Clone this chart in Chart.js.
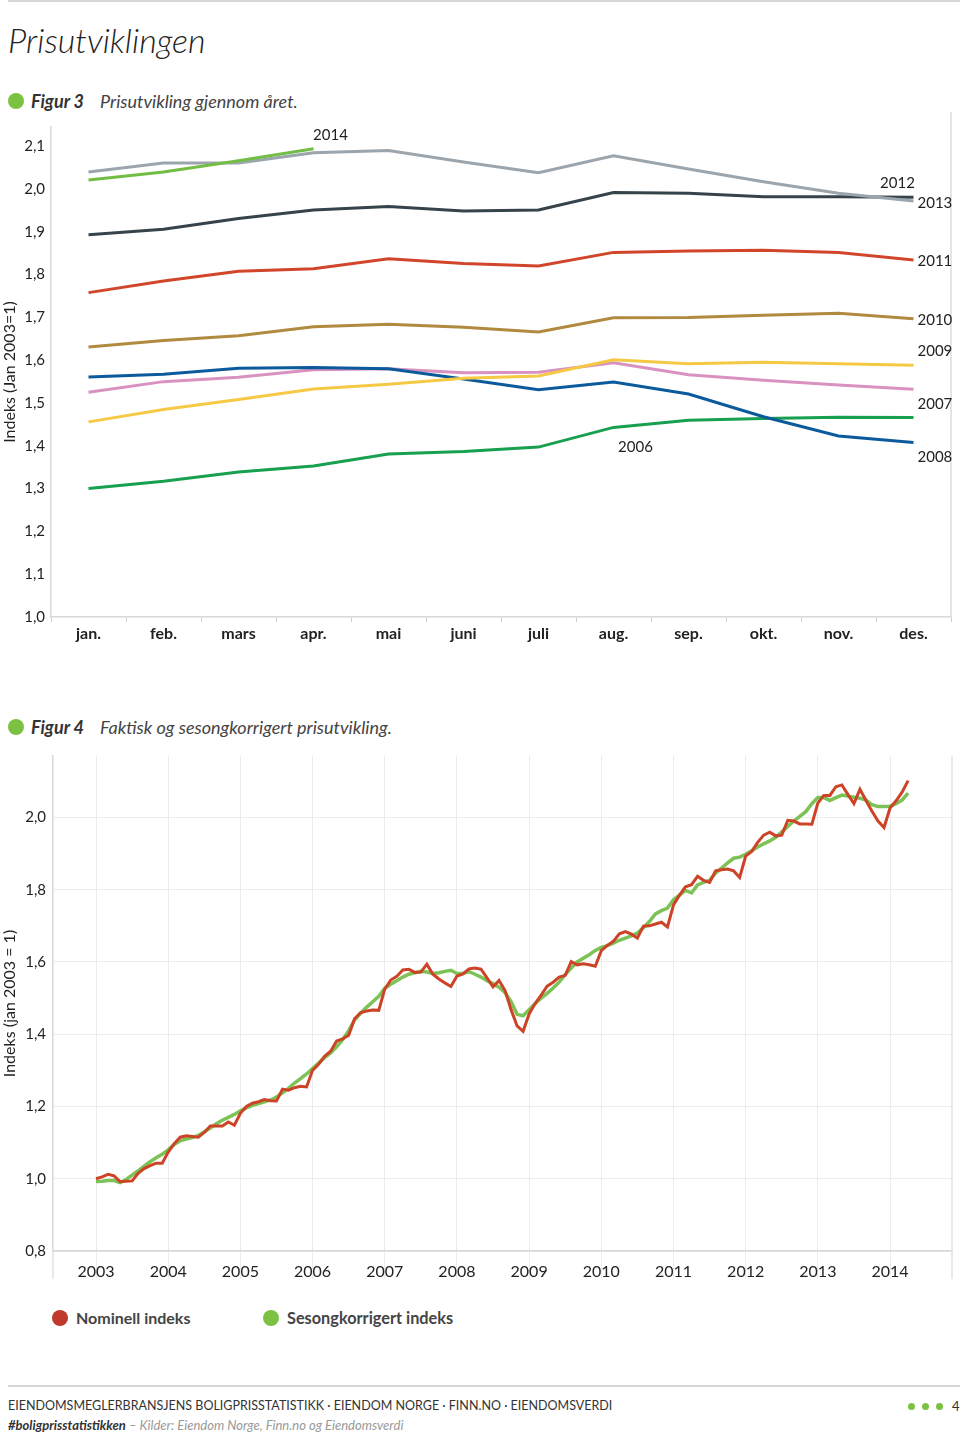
<!DOCTYPE html>
<html><head><meta charset="utf-8">
<script src="https://cdn.jsdelivr.net/npm/chart.js@4.4.0/dist/chart.umd.min.js"></script>
<style>
body{margin:0;background:#fff;width:960px;height:1436px;position:relative;overflow:hidden;font-family:Lato,"Open Sans",sans-serif;color:#222}
.abs{position:absolute;white-space:nowrap;line-height:1}
.dot{position:absolute;border-radius:50%}
</style></head><body>
<div class="abs" style="left:8px;top:0;width:952px;height:2px;background:#d6d6d6"></div>
<div class="abs" style="left:8px;top:23px;font-size:34px;font-style:italic;font-weight:300;color:#222">Prisutviklingen</div>

<div class="dot" style="left:8px;top:93px;width:16px;height:16px;background:#7cc242"></div>
<div class="abs" style="left:31px;top:92px;font-size:18px;font-style:italic;font-weight:bold;color:#333">Figur 3</div>
<div class="abs" style="left:100px;top:92px;font-size:18px;font-style:italic;color:#444">Prisutvikling gjennom året.</div>

<div class="abs" style="left:0;top:110px;width:960px;height:540px"><canvas id="c1" width="960" height="540"></canvas></div>

<div class="dot" style="left:8px;top:719px;width:16px;height:16px;background:#7cc242"></div>
<div class="abs" style="left:31px;top:718px;font-size:18px;font-style:italic;font-weight:bold;color:#333">Figur 4</div>
<div class="abs" style="left:100px;top:718px;font-size:18px;font-style:italic;color:#444">Faktisk og sesongkorrigert prisutvikling.</div>

<div class="abs" style="left:0;top:740px;width:960px;height:560px"><canvas id="c2" width="960" height="560"></canvas></div>

<div class="dot" style="left:52px;top:1310px;width:16px;height:16px;background:#c0392b"></div>
<div class="abs" style="left:76px;top:1310px;font-size:16px;font-weight:bold;color:#444">Nominell indeks</div>
<div class="dot" style="left:263px;top:1310px;width:16px;height:16px;background:#7cc242"></div>
<div class="abs" style="left:287px;top:1310px;font-size:16.3px;font-weight:bold;color:#444">Sesongkorrigert indeks</div>

<div class="abs" style="left:8px;top:1385px;width:952px;height:2px;background:#d6d6d6"></div>
<div class="abs" style="left:8px;top:1400px;font-size:12.5px;color:#333">EIENDOMSMEGLERBRANSJENS BOLIGPRISSTATISTIKK · EIENDOM NORGE · FINN.NO · EIENDOMSVERDI</div>
<div class="abs" style="left:8px;top:1419px;font-size:13px;font-style:italic;color:#333"><b>#boligprisstatistikken</b> <span style="color:#999">– Kilder: Eiendom Norge, Finn.no og Eiendomsverdi</span></div>
<div class="dot" style="left:908px;top:1403px;width:7px;height:7px;background:#7cc242"></div>
<div class="dot" style="left:922px;top:1403px;width:7px;height:7px;background:#7cc242"></div>
<div class="dot" style="left:936px;top:1403px;width:7px;height:7px;background:#7cc242"></div>
<div class="abs" style="left:952px;top:1400px;font-size:13px;color:#333">4</div>

<script>
// ---------- Figur 3 data ----------
const months = ['jan.','feb.','mars','apr.','mai','juni','juli','aug.','sep.','okt.','nov.','des.'];
const y2006 = [1.300,1.317,1.339,1.353,1.381,1.387,1.397,1.443,1.460,1.464,1.467,1.466];
const y2007 = [1.525,1.550,1.560,1.578,1.580,1.571,1.572,1.594,1.566,1.553,1.542,1.532];
const y2008 = [1.561,1.567,1.581,1.583,1.580,1.556,1.531,1.549,1.521,1.468,1.423,1.408];
const y2009 = [1.456,1.485,1.508,1.533,1.544,1.558,1.563,1.601,1.592,1.595,1.592,1.588];
const y2010 = [1.631,1.646,1.657,1.678,1.684,1.677,1.666,1.699,1.700,1.705,1.710,1.697];
const y2011 = [1.758,1.785,1.808,1.814,1.837,1.826,1.820,1.852,1.855,1.857,1.852,1.834];
const y2012 = [1.893,1.906,1.931,1.951,1.959,1.949,1.951,1.992,1.990,1.982,1.982,1.981];
const y2013 = [2.040,2.061,2.061,2.085,2.090,2.063,2.038,2.078,2.047,2.017,1.990,1.972];
const y2014 = [2.021,2.040,2.066,2.094];

// ---------- Figur 4 data ----------
const yearLabels = ['2003','2004','2005','2006','2007','2008','2009','2010','2011','2012','2013','2014'];
const n2003 = [1.000,1.005,1.012,1.008,0.992,0.993,0.994,1.015,1.028,1.036,1.043,1.043];
const n2004 = [1.074,1.097,1.115,1.119,1.117,1.115,1.128,1.146,1.146,1.146,1.157,1.148];
const n2005 = [1.181,1.200,1.209,1.213,1.219,1.216,1.215,1.248,1.245,1.252,1.256,1.254];
const n2014 = [2.026,2.046,2.070,2.102];
const s2003 = [0.992,0.993,0.995,0.995,0.989,0.998,1.010,1.022,1.035,1.047,1.058,1.068];
const s2004 = [1.080,1.095,1.105,1.110,1.114,1.120,1.130,1.140,1.152,1.162,1.170,1.178];
const s2005 = [1.188,1.196,1.203,1.208,1.213,1.218,1.226,1.238,1.250,1.265,1.277,1.290];
const s2006 = [1.305,1.320,1.335,1.348,1.365,1.385,1.410,1.440,1.458,1.475,1.490,1.505];
const s2007 = [1.527,1.538,1.548,1.558,1.566,1.570,1.574,1.572,1.568,1.570,1.574,1.577];
const s2008 = [1.568,1.568,1.573,1.566,1.558,1.548,1.540,1.530,1.515,1.490,1.455,1.451];
const s2009 = [1.468,1.485,1.500,1.513,1.528,1.544,1.565,1.583,1.600,1.610,1.620,1.632];
const s2010 = [1.640,1.645,1.652,1.660,1.666,1.672,1.680,1.695,1.712,1.733,1.742,1.749];
const s2011 = [1.772,1.785,1.798,1.791,1.813,1.820,1.826,1.846,1.860,1.874,1.887,1.890];
const s2012 = [1.898,1.908,1.918,1.927,1.935,1.945,1.960,1.975,1.990,2.003,2.016,2.038];
const s2013 = [2.055,2.055,2.047,2.055,2.062,2.059,2.056,2.053,2.048,2.035,2.030,2.030];
const s2014 = [2.031,2.038,2.048,2.067];

const FONT = 'Lato';
const fmt = v => Number(v).toFixed(1).replace('.', ',');

const frameLines = {
  id: 'frameLines',
  beforeDatasetsDraw(chart, args, o) {
    const {ctx, chartArea: a} = chart;
    ctx.save();
    ctx.strokeStyle = o.color; ctx.lineWidth = 1.5;
    ctx.beginPath();
    ctx.moveTo(a.right, a.top - (o.topExt||0)); ctx.lineTo(a.right, a.bottom + (o.ext||0));
    if (o.left) { ctx.moveTo(a.left, a.bottom); ctx.lineTo(a.left, a.bottom + (o.ext||0)); }
    ctx.stroke();
    ctx.restore();
  }
};

const yearTags = {
  id: 'yearTags',
  afterDatasetsDraw(chart, args, o) {
    if (!o.items) return;
    const {ctx} = chart; const xs = chart.scales.x, ys = chart.scales.y;
    ctx.save();
    ctx.font = '15px ' + FONT; ctx.fillStyle = '#222'; ctx.textBaseline = 'middle';
    o.items.forEach(it => {
      const ds = chart.data.datasets.find(d => d.label === it.label);
      const x = xs.getPixelForValue(it.index) + it.dx;
      const y = ys.getPixelForValue(ds.data[it.index]) + it.dy;
      ctx.textAlign = it.align;
      ctx.fillText(it.label, x, y);
    });
    ctx.restore();
  }
};

const series = [
  ['2014', y2014, '#72be44'],
  ['2013', y2013, '#9ba5ae'],
  ['2012', y2012, '#36434b'],
  ['2011', y2011, '#d1462b'],
  ['2010', y2010, '#b08a3e'],
  ['2009', y2009, '#f5c944'],
  ['2008', y2008, '#0b5a9c'],
  ['2007', y2007, '#d992c0'],
  ['2006', y2006, '#17a04f']
];

new Chart(document.getElementById('c1'), {
  type: 'line',
  data: {
    labels: months,
    datasets: series.map(([l, d, c]) => ({label: l, data: d, borderColor: c, backgroundColor: c, borderWidth: 3, pointRadius: 0, tension: 0, fill: false}))
  },
  options: {
    responsive: false, animation: false,
    layout: {padding: {top: 17, right: 9, left: 0, bottom: 0}},
    plugins: {
      legend: {display: false}, tooltip: {enabled: false},
      frameLines: {color: '#dcdcdc', ext: 0, topExt: 15},
      yearTags: {items: [
        {label: '2014', index: 3, dx: 17, dy: -14, align: 'center'},
        {label: '2012', index: 11, dx: -16, dy: -14, align: 'center'},
        {label: '2013', index: 11, dx: 4, dy: 2, align: 'left'},
        {label: '2011', index: 11, dx: 4, dy: 1, align: 'left'},
        {label: '2010', index: 11, dx: 4, dy: 1, align: 'left'},
        {label: '2009', index: 11, dx: 4, dy: -14, align: 'left'},
        {label: '2007', index: 11, dx: 4, dy: 15, align: 'left'},
        {label: '2008', index: 11, dx: 4, dy: 15, align: 'left'},
        {label: '2006', index: 7, dx: 22, dy: 20, align: 'center'}
      ]}
    },
    scales: {
      x: {
        type: 'category', offset: true,
        grid: {offset: true, drawOnChartArea: false, drawTicks: true, tickLength: 5, color: '#d0d0d0'},
        border: {color: '#d8d8d8', width: 1.5},
        ticks: {font: {family: FONT, size: 16, weight: 'bold'}, color: '#222', padding: 2, maxRotation: 0, autoSkip: false},
        afterFit(s) { s.height = 33; }
      },
      y: {
        min: 1.0, max: 2.145,
        ticks: {stepSize: 0.1, includeBounds: false, callback: v => fmt(v), font: {family: FONT, size: 15}, color: '#222', padding: 6},
        grid: {drawOnChartArea: false, drawTicks: false},
        border: {color: '#d8d8d8', width: 1.5},
        title: {display: true, text: 'Indeks (Jan 2003=1)', font: {family: FONT, size: 16}, color: '#222', padding: {top: 0, bottom: 0}},
        afterFit(s) { s.width = 51; }
      }
    }
  },
  plugins: [frameLines, yearTags]
});

const nominal = [].concat(n2003, n2004, n2005, y2006, y2007, y2008, y2009, y2010, y2011, y2012, y2013, n2014);
const seasonal = [].concat(s2003, s2004, s2005, s2006, s2007, s2008, s2009, s2010, s2011, s2012, s2013, s2014);
const toPts = arr => arr.map((v, i) => ({x: i, y: v}));

new Chart(document.getElementById('c2'), {
  type: 'line',
  data: {
    datasets: [
      {label: 'Nominell indeks', data: toPts(nominal), borderColor: '#cc4328', borderWidth: 3, pointRadius: 0, tension: 0},
      {label: 'Sesongkorrigert indeks', data: toPts(seasonal), borderColor: '#7cc256', borderWidth: 3.5, pointRadius: 0, tension: 0}
    ]
  },
  options: {
    responsive: false, animation: false,
    layout: {padding: {top: 16, right: 8, left: 0, bottom: 0}},
    plugins: {legend: {display: false}, tooltip: {enabled: false}, frameLines: {color: '#e2e2e2', ext: 28, topExt: 0, left: true}},
    scales: {
      x: {
        type: 'linear', min: -7.15, max: 142.3,
        afterBuildTicks(s) { s.ticks = yearLabels.map((_, i) => ({value: i * 12})); },
        ticks: {callback: (v, i) => yearLabels[i], font: {family: FONT, size: 16}, color: '#222', padding: -17, maxRotation: 0, autoSkip: false},
        grid: {color: '#ececec', lineWidth: 1, tickLength: 28},
        border: {color: '#d8d8d8', width: 1.5},
        afterFit(s) { s.height = 49; }
      },
      y: {
        min: 0.8, max: 2.17,
        ticks: {stepSize: 0.2, includeBounds: false, callback: v => fmt(v), font: {family: FONT, size: 15}, color: '#222', padding: 7},
        grid: {color: '#ececec', drawTicks: false},
        border: {color: '#d8d8d8', width: 1.5},
        title: {display: true, text: 'Indeks (jan 2003 = 1)', font: {family: FONT, size: 16}, color: '#222', padding: {top: 0, bottom: 0}},
        afterFit(s) { s.width = 53; }
      }
    }
  },
  plugins: [frameLines]
});
</script>
</body></html>
